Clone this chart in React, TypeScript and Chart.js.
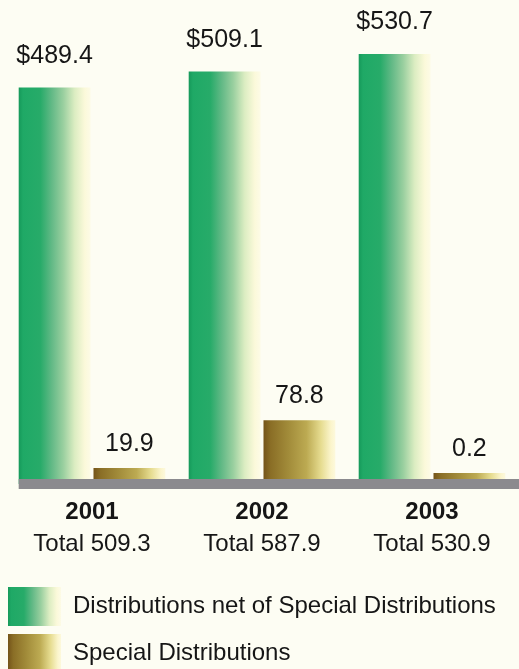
import React, { useEffect, useRef } from "react";
import { Chart, registerables } from "chart.js";

Chart.register(...registerables);

const years = ["2001", "2002", "2003"];
const totalLabels = ["Total 509.3", "Total 587.9", "Total 530.9"];
const netDistributions = [489.4, 509.1, 530.7];
const specialDistributions = [19.9, 78.8, 0.2];
const seriesNames = [
  "Distributions net of Special Distributions",
  "Special Distributions",
];
const valuePrefixes = ["$", ""];

const BG = "#fdfdf3";
const FONT = "'Liberation Sans', Arial, Helvetica, sans-serif";
const TEXT = "#161616";

const greenStops: [number, string][] = [
  [0, "#16995a"],
  [0.06, "#1fa966"],
  [0.3, "#27ab69"],
  [0.46, "#62b986"],
  [0.62, "#99cf9f"],
  [0.78, "#dcedc2"],
  [0.92, "#fbf9da"],
  [1, "#fdfbe6"],
];
const goldStops: [number, string][] = [
  [0, "#74541a"],
  [0.1, "#8a6e26"],
  [0.35, "#a28c3a"],
  [0.6, "#bcaa52"],
  [0.8, "#e6dc90"],
  [0.94, "#fbf5cc"],
  [1, "#fdf9dc"],
];
const stopsBySeries = [greenStops, goldStops];

const CAT_PCT = 0.88;
const BAR_PCT = 0.96;

function linearGradient(
  ctx: CanvasRenderingContext2D,
  x0: number,
  x1: number,
  stops: [number, string][]
) {
  const g = ctx.createLinearGradient(x0, 0, x1, 0);
  stops.forEach(([o, c]) => g.addColorStop(o, c));
  return g;
}

function barFill(seriesIndex: number) {
  return (c: any) => {
    const chart = c.chart;
    const xs = chart.scales?.x;
    const stops = stopsBySeries[seriesIndex];
    if (!xs || !xs.width) return stops[1][1];
    const count = chart.data.labels.length;
    const catWidth = xs.width / count;
    const size = catWidth * CAT_PCT;
    const chunk = size / 2;
    const start = xs.getPixelForValue(c.dataIndex) - size / 2;
    const center = start + chunk * seriesIndex + chunk / 2;
    const w = chunk * BAR_PCT;
    return linearGradient(chart.ctx, center - w / 2, center + w / 2, stops);
  };
}

const backgroundPlugin = {
  id: "bg",
  beforeDraw(chart: any) {
    const { ctx, width, height } = chart;
    ctx.save();
    ctx.fillStyle = BG;
    ctx.fillRect(0, 0, width, height);
    ctx.restore();
  },
};

const baselinePlugin = {
  id: "baseline",
  afterDatasetsDraw(chart: any) {
    const { ctx, chartArea } = chart;
    const first = chart.getDatasetMeta(0).data[0];
    if (!first) return;
    const left = first.x - first.width / 2;
    ctx.save();
    ctx.fillStyle = "#8b8a8e";
    ctx.fillRect(left, chartArea.bottom - 5, chart.width - left, 10);
    ctx.restore();
  },
};

const valueLabelPlugin = {
  id: "valueLabels",
  afterDatasetsDraw(chart: any) {
    const { ctx } = chart;
    ctx.save();
    ctx.fillStyle = TEXT;
    ctx.font = `25px ${FONT}`;
    ctx.textAlign = "center";
    ctx.textBaseline = "alphabetic";
    chart.data.datasets.forEach((ds: any, di: number) => {
      const meta = chart.getDatasetMeta(di);
      meta.data.forEach((el: any, i: number) => {
        const v = ds.data[i] as number;
        const gap = di === 0 ? 25 : 17;
        ctx.fillText(valuePrefixes[di] + v.toFixed(1), el.x, el.y - gap);
      });
    });
    ctx.restore();
  },
};

export default function App() {
  const ref = useRef<HTMLCanvasElement | null>(null);

  useEffect(() => {
    document.body.style.margin = "0";
    document.body.style.background = BG;
    const canvas = ref.current;
    if (!canvas) return;
    const chart = new Chart(canvas, {
      type: "bar",
      data: {
        labels: years,
        datasets: [
          {
            label: seriesNames[0],
            data: netDistributions,
            backgroundColor: barFill(0),
            borderWidth: 0,
            categoryPercentage: CAT_PCT,
            barPercentage: BAR_PCT,
          },
          {
            label: seriesNames[1],
            data: specialDistributions,
            backgroundColor: barFill(1),
            borderWidth: 0,
            minBarLength: 11,
            categoryPercentage: CAT_PCT,
            barPercentage: BAR_PCT,
          },
        ],
      },
      options: {
        animation: false,
        responsive: false,
        maintainAspectRatio: false,
        layout: { padding: { top: 2, left: 0, right: 2, bottom: -14 } },
        scales: {
          x: {
            type: "category",
            offset: true,
            grid: { display: false, drawTicks: false },
            border: { display: false },
            ticks: {
              color: TEXT,
              font: { family: FONT, size: 24, weight: "bold" },
              padding: 14,
              maxRotation: 0,
              autoSkip: false,
            },
            afterFit: (s: any) => {
              s.height = 44;
            },
          },
          x2: {
            type: "category",
            position: "bottom",
            offset: true,
            labels: totalLabels,
            grid: { display: false, drawTicks: false },
            border: { display: false },
            ticks: {
              color: TEXT,
              font: { family: FONT, size: 24 },
              padding: 2,
              maxRotation: 0,
              autoSkip: false,
            },
            afterFit: (s: any) => {
              s.height = 51;
            },
          },
          y: {
            display: true,
            min: 0,
            max: 595,
            grid: { display: false, drawTicks: false },
            border: { display: false },
            ticks: { display: false },
            afterFit: (s: any) => {
              s.width = 7;
            },
          },
        },
        plugins: {
          tooltip: { enabled: false },
          legend: {
            position: "bottom",
            align: "start",
            labels: {
              boxWidth: 53,
              boxHeight: 39,
              padding: 8,
              color: TEXT,
              font: { family: FONT, size: 24 },
              generateLabels: (ch: any) =>
                seriesNames.map((name, i) => ({
                  text: name,
                  fillStyle: linearGradient(ch.ctx, 8, 61, stopsBySeries[i]),
                  strokeStyle: "rgba(0,0,0,0)",
                  lineWidth: 0,
                  hidden: false,
                  datasetIndex: i,
                  fontColor: TEXT,
                })),
            },
          },
        },
      },
      plugins: [backgroundPlugin, baselinePlugin, valueLabelPlugin],
    } as any);
    return () => chart.destroy();
  }, []);

  return (
    <div style={{ width: 519, height: 669, background: BG }}>
      <canvas ref={ref} width={519} height={669} style={{ display: "block" }} />
    </div>
  );
}
